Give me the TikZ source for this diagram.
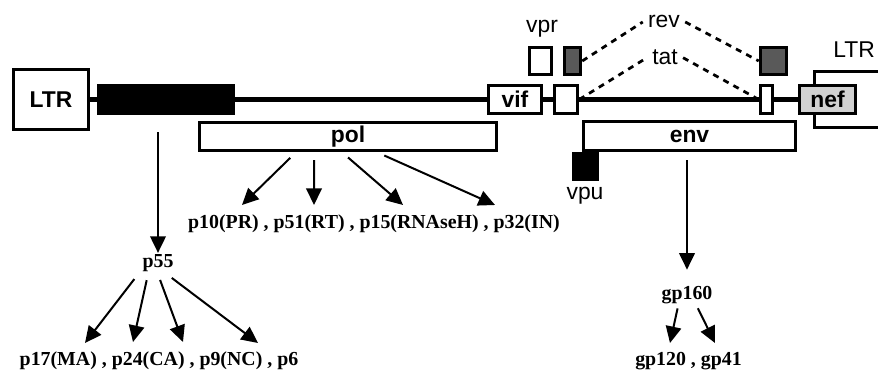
\documentclass[tikz,border=0pt]{standalone}
\usepackage{fontspec}
\setmainfont{Liberation Serif}
\setsansfont{Liberation Sans}
\usepackage{tikz}
\usetikzlibrary{arrows.meta,calc}

\begin{document}
\begin{tikzpicture}[
  x=0.2mm, y=-0.2mm,
  >={Triangle[length=3.3mm,width=3.1mm]},
  gene/.style={draw=black, line width=0.7mm, fill=white, inner sep=0pt,
    font=\sffamily\bfseries\fontsize{13}{15}\selectfont},
  blackbox/.style={fill=black, inner sep=0pt},
  speckle/.style={draw=black, line width=0.7mm, fill=black!65, inner sep=0pt},
  tag/.style={font=\sffamily\fontsize{13}{15}\selectfont, inner sep=1mm, anchor=base},
  prod/.style={font=\bfseries\fontsize{11.3}{13}\selectfont, inner sep=1pt, anchor=base},
  arr/.style={->, line width=0.4mm},
  splice/.style={line width=0.55mm, dash pattern=on 1.2mm off 1.1mm},
  backbone/.style={line width=0.9mm}
]
\clip (0,0) rectangle (878,372);

% ==================== Genome: LTR ... LTR ====================
\node (ltrR) [gene, minimum width=20mm, minimum height=11.2mm] at (864.5,99.5) {};
\node (ltrRlbl) [tag, anchor=base west] at (828,58) {LTR};
\node (ltrL) [gene, minimum width=15mm, minimum height=12mm] at (51,99.5) {LTR};

% gag (solid bar) and the small exons on the main line
\node (gag) [blackbox, minimum width=27.6mm, minimum height=6.2mm] at (166,99.5) {};
\node (vif) [gene, minimum width=10.6mm, minimum height=5.6mm] at (515,99.5) {vif};
\node (exA) [gene, minimum width=4.6mm, minimum height=5.6mm] at (566,99.5) {};
\node (tatB) [gene, minimum width=2.4mm, minimum height=5.6mm] at (766.5,99.5) {};
\node (nef) [gene, fill=black!18, minimum width=11.2mm, minimum height=5.6mm] at (827.5,99.5) {nef};

\draw[backbone] (ltrL.east) -- (gag.west) (gag.east) -- (vif.west)
  (vif.east) -- (exA.west) (exA.east) -- (tatB.west) (tatB.east) -- (nef.west);

% second row: pol, env, vpu
\node (pol) [gene, minimum width=59.4mm, minimum height=5.6mm] at (348,136.5) {pol};
\node (env) [gene, minimum width=42.4mm, minimum height=5.8mm] at (689.5,136) {env};
\node (vpu) [blackbox, minimum width=5.4mm, minimum height=5.8mm] at (585.5,166.5) {};
\node (vpulbl) [tag] at (585,200) {vpu};

% top row: vpr, rev exons
\node (vpr) [gene, minimum width=4.4mm, minimum height=5.4mm] at (540.5,61) {};
\node (vprlbl) [tag] at (542,33) {vpr};
\node (revA) [speckle, minimum width=3.2mm, minimum height=5.4mm] at (572.5,61) {};
\node (revB) [speckle, minimum width=5.2mm, minimum height=5.4mm] at (773.5,61) {};

% splicing of rev and tat
\node (rev) [tag] at (664,28) {rev};
\node (tat) [tag] at (665,65) {tat};
\draw[splice] (revA.east) -- (rev.west) (rev.east) -- (revB.west);
\draw[splice] (exA.east) -- (tat.west) (tat.east) -- (tatB.west);

% ==================== Products ====================
\node (p55) [prod] at (158,268) {p55};
\node (gagp) [prod] at (159,366) {p17(MA) , p24(CA) , p9(NC) , p6};
\node (polp) [prod] at (374,229) {p10(PR) , p51(RT) , p15(RNAseH) , p32(IN)};
\node (gp160) [prod] at (687,300) {gp160};
\node (envp) [prod] at (688.5,366) {gp120 , gp41};

% arrow tips
\coordinate (gt1) at (85,343);
\coordinate (gt2) at (133,342);
\coordinate (gt3) at (183,342);
\coordinate (gt4) at (258,343);
\coordinate (pt1) at (242,205);
\coordinate (pt2) at (314,205);
\coordinate (pt3) at (403,205);
\coordinate (pt4) at (495,205);
\coordinate (et1) at (670,343);
\coordinate (et2) at (715,343);

\draw[arr, shorten <=3.4mm] (gag.south -| p55.north) -- (p55.north);
\foreach \dx/\tip in {-4mm/gt1, -2mm/gt2, 0mm/gt3, 1.8mm/gt4}
  \draw[arr, shorten <=1.2mm] ([xshift=\dx]p55.south) -- (\tip);

\foreach \dx/\tip in {-10.4mm/pt1, -6.8mm/pt2, -1.2mm/pt3, 5.8mm/pt4}
  \draw[arr, shorten <=1.6mm] ([xshift=\dx]pol.south) -- (\tip);

\draw[arr, shorten <=1.6mm, shorten >=3mm] (env.south -| gp160.north) -- (gp160.north);
\foreach \dx/\tip in {-1.8mm/et1, 2mm/et2}
  \draw[arr, shorten <=0.4mm] ([xshift=\dx]gp160.south) -- (\tip);

\end{tikzpicture}
\end{document}
